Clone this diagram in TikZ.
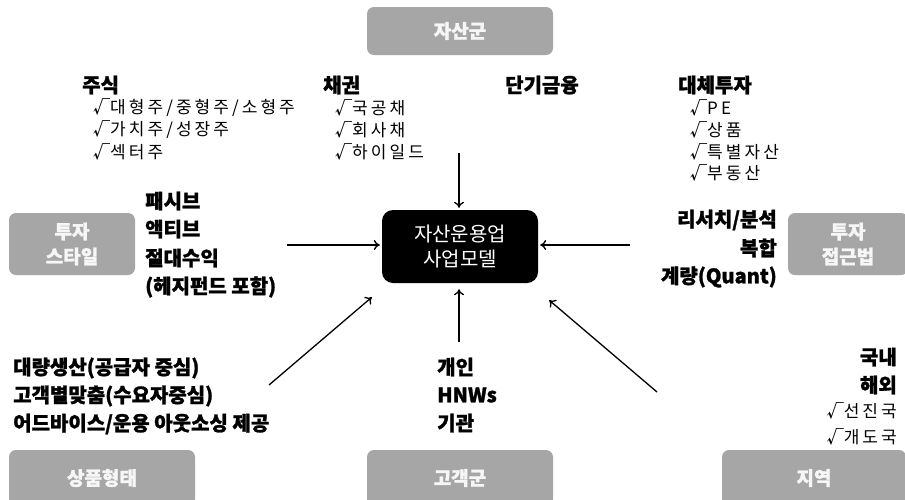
\documentclass[tikz,border=0pt]{standalone}
\usepackage{fontspec}
\setmainfont{Noto Sans CJK KR}[BoldFeatures={FakeBold=1.2}]
\newfontfamily\itf[LetterSpace=18]{Noto Sans CJK KR}
\usetikzlibrary{arrows.meta,calc}
\definecolor{boxgray}{HTML}{A6A6A6}
\definecolor{boxtxt}{HTML}{F6F6F6}
\newcommand{\ck}{{\bfseries √}}
\tikzset{
  gbox/.style={fill=boxgray, rounded corners=7pt, text=boxtxt, font=\bfseries\fontsize{19}{25}\selectfont, align=center, inner sep=0pt},
  hd/.style={anchor=west, inner sep=0pt, font=\bfseries\fontsize{20}{22}\selectfont},
  hdr/.style={hd, anchor=east},
  itm/.style={anchor=west, inner sep=0pt, font=\itf\fontsize{17}{18}\selectfont},
  itmr/.style={itm, anchor=east},
  arr/.style={-{To[length=6pt,width=10pt]}, line width=1.3pt}
}
\begin{document}
\begin{tikzpicture}[x=1pt,y=-1pt]
\clip (0,0) rectangle (905,499);
\fill[white] (0,0) rectangle (905,499);
% category boxes
\node[gbox, minimum width=186pt, minimum height=48pt] (asset) at (460,31) {자산군};
\node[gbox, minimum width=126pt, minimum height=62pt] (style) at (72,244) {투자\\스타일};
\node[gbox, minimum width=120pt, minimum height=62pt] (appr) at (848,244) {투자\\접근법};
\node[gbox, minimum width=186pt, minimum height=56pt] (prod) at (102,478) {상품형태};
\node[gbox, minimum width=186pt, minimum height=56pt] (cust) at (460,478) {고객군};
\node[gbox, minimum width=184pt, minimum height=56pt] (region) at (814,478) {지역};
% center
\node[fill=black, rounded corners=11pt, text=white, minimum width=156pt, minimum height=73pt, inner sep=0pt, align=center, font=\fontsize{20}{25}\selectfont] (ctr) at (460,246.5) {자산운용업\\사업모델};
% asset class texts
\node[hd] (stock) at (82,85) {주식};
\node[itm] (s1) at (93,108) {\ck{}대형주/중형주/소형주};
\node[itm] (s2) at (93,130) {\ck{}가치주/성장주};
\node[itm] (s3) at (93,152) {\ck{}섹터주};
\node[hd] (bond) at (323,85) {채권};
\node[itm] (b1) at (335,108) {\ck{}국공채};
\node[itm] (b2) at (335,130) {\ck{}회사채};
\node[itm] (b3) at (335,152) {\ck{}하이일드};
\node[hd] (mm) at (505,85) {단기금융};
\node[hd] (alt) at (678,85) {대체투자};
\node[itm] (a1) at (690,108) {\ck{}PE};
\node[itm] (a2) at (690,130) {\ck{}상품};
\node[itm] (a3) at (690,152) {\ck{}특별자산};
\node[itm] (a4) at (690,173) {\ck{}부동산};
% style texts
\node[hd] (st1) at (145,201) {패시브};
\node[hd] (st2) at (145,229) {액티브};
\node[hd] (st3) at (145,258) {절대수익};
\node[hd] (st4) at (145,287) {(헤지펀드 포함)};
% approach texts
\node[hdr] (ap1) at (777,220) {리서치/분석};
\node[hdr] (ap2) at (777,248) {복합};
\node[hdr] (ap3) at (777,277) {계량(Quant)};
% product texts
\node[hd] (p1) at (13,368) {대량생산(공급자 중심)};
\node[hd] (p2) at (13,396) {고객별맞춤(수요자중심)};
\node[hd] (p3) at (13,424) {어드바이스/운용 아웃소싱 제공};
% customer texts
\node[hd] (c1) at (437,367) {개인};
\node[hd] (c2) at (437,395) {HNWs};
\node[hd] (c3) at (437,423) {기관};
% region texts
\node[hdr] (r1) at (897,357) {국내};
\node[hdr] (r2) at (897,385) {해외};
\node[itmr] (r3) at (897,411) {\ck{}선진국};
\node[itmr] (r4) at (897,437) {\ck{}개도국};
% connectors
\coordinate (tA) at (459,153);
\coordinate (lA) at (287,245);
\coordinate (rA) at (630,245);
\coordinate (bA) at (459,342);
\coordinate (blA) at (269,385);
\coordinate (brA) at (657,392);
\draw[arr, shorten >=2pt] (tA) -- (tA |- ctr.north);
\draw[arr, shorten >=2pt] (lA) -- (lA -| ctr.west);
\draw[arr, shorten >=2pt] (rA) -- (rA -| ctr.east);
\draw[arr, shorten >=6pt] (bA) -- (bA |- ctr.south);
\draw[arr] (blA) -- ($(ctr.south west)+(-10,14)$);
\draw[arr] (brA) -- ($(ctr.south east)+(11,17)$);
\end{tikzpicture}
\end{document}
